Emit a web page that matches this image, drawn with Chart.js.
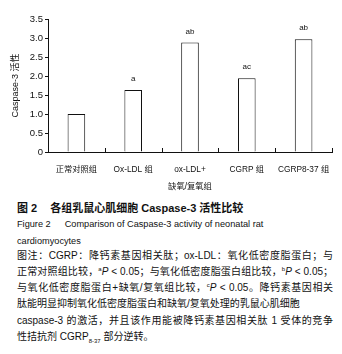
<!DOCTYPE html>
<html>
<head>
<meta charset="utf-8">
<script src="https://cdn.jsdelivr.net/npm/chart.js@4"></script>
<style>
    body { margin: 0; background: #fff; width: 342px; height: 354px; position: relative; overflow: hidden;
           font-family: "Liberation Sans", "Noto Sans CJK SC", sans-serif; color: #111; }
    #chartBox { position: absolute; left: 0; top: 0; width: 342px; height: 200px; }
    .line { position: absolute; left: 17px; white-space: nowrap; line-height: 16px; }
    .cap { top: 200px; font-size: 11px; font-weight: bold; }
    .en { font-size: 9.2px; }
    #notes { position: absolute; left: 17px; top: 247.5px; width: 316px; font-size: 10px; line-height: 16.3px; }
    #notes div { white-space: nowrap; text-align: justify; text-align-last: justify; }
    #notes div.short { text-align-last: left; }
    sup, sub { font-size: 6px; line-height: 0; }
</style>
</head>
<body>
<div id="chartBox"><canvas id="caspaseChart"></canvas></div>

<div class="line cap">图 2<span style="margin-left:13px">各组乳鼠心肌细胞 Caspase-3 活性比较</span></div>
<div class="line en" style="top:216px">Figure 2<span style="margin-left:14px">Comparison of Caspase-3 activity of neonatal rat</span></div>
<div class="line en" style="top:233px">cardiomyocytes</div>
<div id="notes">
    <div>图注：CGRP：降钙素基因相关肽；ox-LDL：氧化低密度脂蛋白；与</div>
    <div>正常对照组比较，<sup>a</sup><i>P</i> &lt; 0.05；与氧化低密度脂蛋白组比较，<sup>b</sup><i>P</i> &lt; 0.05；</div>
    <div>与氧化低密度脂蛋白+缺氧/复氧组比较，<sup>c</sup><i>P</i> &lt; 0.05。降钙素基因相关</div>
    <div class="short">肽能明显抑制氧化低密度脂蛋白和缺氧/复氧处理的乳鼠心肌细胞</div>
    <div>caspase-3 的激活，并且该作用能被降钙素基因相关肽 1 受体的竞争</div>
    <div class="short">性拮抗剂 CGRP<sub>8-37</sub> 部分逆转。</div>
</div>

<script>
// Данные графика
const groups = ['正常对照组', 'Ox-LDL 组', ['ox-LDL+', '缺氧/复氧组'], 'CGRP 组', 'CGRP8-37 组'];
const activity = [1.0, 1.63, 2.88, 1.94, 2.97];
const marks = ['', 'a', 'ab', 'ac', 'ab'];
const yTicks = [0, 0.5, 1.0, 1.5, 2.0, 2.5, 3.0, 3.5];

const ink = '#111';

// Метки значимости над столбцами и короткие засечки на оси X
const extrasPlugin = {
    id: 'extras',
    afterDatasetsDraw(chart) {
        const ctx = chart.ctx;
        const meta = chart.getDatasetMeta(0);
        ctx.save();
        ctx.fillStyle = ink;
        ctx.font = '8px "Liberation Sans", sans-serif';
        ctx.textAlign = 'center';
        ctx.textBaseline = 'bottom';
        meta.data.forEach((bar, i) => {
            if (marks[i]) ctx.fillText(marks[i], bar.x, bar.y - 7);
        });

        // засечки между категориями (направлены вверх)
        const x = chart.scales.x;
        const step = (x.right - x.left) / groups.length;
        ctx.strokeStyle = ink;
        ctx.lineWidth = 1;
        ctx.beginPath();
        for (let i = 1; i <= groups.length; i++) {
            const px = Math.round(x.left + step * i) + 0.5;
            ctx.moveTo(px, x.top);
            ctx.lineTo(px, x.top - 4);
        }
        ctx.stroke();
        ctx.restore();
    }
};

const ctx = document.getElementById('caspaseChart').getContext('2d');
new Chart(ctx, {
    type: 'bar',
    data: {
        labels: groups,
        datasets: [{
            label: 'Caspase-3',
            data: activity,
            backgroundColor: '#fff',
            borderColor: ink,
            borderWidth: 1,
            barPercentage: 0.62,
            categoryPercentage: 0.5
        }]
    },
    options: {
        responsive: true,
        maintainAspectRatio: false,
        animation: false,
        layout: { padding: { top: 19, right: 10, left: 0, bottom: 0 } },
        plugins: {
            legend: { display: false },
            tooltip: { enabled: false }
        },
        scales: {
            x: {
                grid: { display: false, drawTicks: false },
                border: { display: true, color: ink, width: 1 },
                ticks: {
                    color: ink,
                    padding: 10,
                    maxRotation: 0,
                    autoSkip: false,
                    font: { family: '"Liberation Sans", "Noto Sans CJK SC"', size: 8.3, lineHeight: 1.95 }
                },
                afterFit(scale) { scale.height = 48; }
            },
            y: {
                min: 0,
                max: 3.5,
                afterBuildTicks(scale) { scale.ticks = yTicks.map(v => ({ value: v })); },
                grid: { drawOnChartArea: false, tickLength: 3, color: ink },
                border: { display: true, color: ink, width: 1 },
                ticks: {
                    color: ink,
                    padding: 2,
                    font: { family: '"Liberation Sans"', size: 9.5 },
                    callback: v => v === 0 ? '0' : v.toFixed(1)
                },
                title: {
                    display: true,
                    text: 'Caspase-3 活性',
                    color: ink,
                    padding: { top: 10, bottom: 0 },
                    font: { family: '"Liberation Sans", "Noto Sans CJK SC"', size: 9 }
                },
                afterFit(scale) { scale.width = 48; }
            }
        }
    },
    plugins: [extrasPlugin]
});
</script>
</body>
</html>
